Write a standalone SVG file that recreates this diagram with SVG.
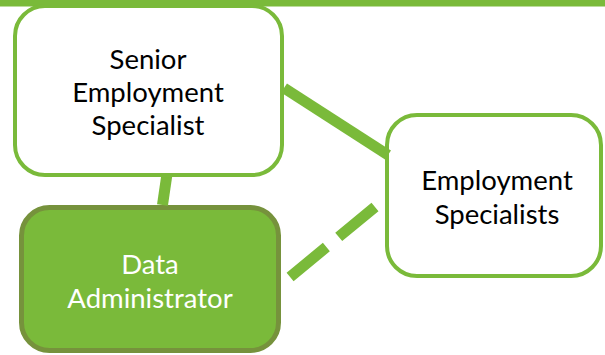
<svg xmlns="http://www.w3.org/2000/svg" width="605" height="355" viewBox="0 0 605 355">
  <style>
    .box { fill: #ffffff; stroke: #7aba3a; stroke-width: 4; }
    .box-filled { fill: #7aba3a; stroke: #76923c; stroke-width: 5; }
    .label { font-family: "Lato", "Open Sans", "Liberation Sans", sans-serif; font-size: 27.5px; text-anchor: middle; fill: #000000; }
    .label-light { fill: #ffffff; }
    .link { stroke: #7aba3a; stroke-width: 11; fill: none; stroke-linecap: butt; }
    .link-dashed { stroke-dasharray: 47 16; }
  </style>

  <!-- header band -->
  <rect x="0" y="0" width="605" height="6.5" fill="#7aba3a"/>

  <g id="senior-employment-specialist">
    <rect class="box" x="15" y="6" width="267" height="169" rx="30" ry="30"/>
    <text class="label" x="148" y="69">Senior</text>
    <text class="label" x="148" y="102">Employment</text>
    <text class="label" x="148" y="135">Specialist</text>
  </g>

  <g id="employment-specialists">
    <rect class="box" x="387" y="115" width="214" height="161" rx="30" ry="30"/>
    <text class="label" x="497" y="190">Employment</text>
    <text class="label" x="497" y="223.5">Specialists</text>
  </g>

  <g id="data-administrator">
    <rect class="box-filled" x="21.5" y="207.5" width="257" height="143" rx="28" ry="28"/>
    <text class="label label-light" x="150" y="274">Data</text>
    <text class="label label-light" x="150" y="308">Administrator</text>
  </g>

  <g id="connectors">
    <line class="link" x1="167" y1="174" x2="162.5" y2="205"/>
    <line class="link" x1="284" y1="88" x2="388" y2="155"/>
    <line class="link link-dashed" x1="375" y1="207" x2="290" y2="277"/>
  </g>
</svg>
